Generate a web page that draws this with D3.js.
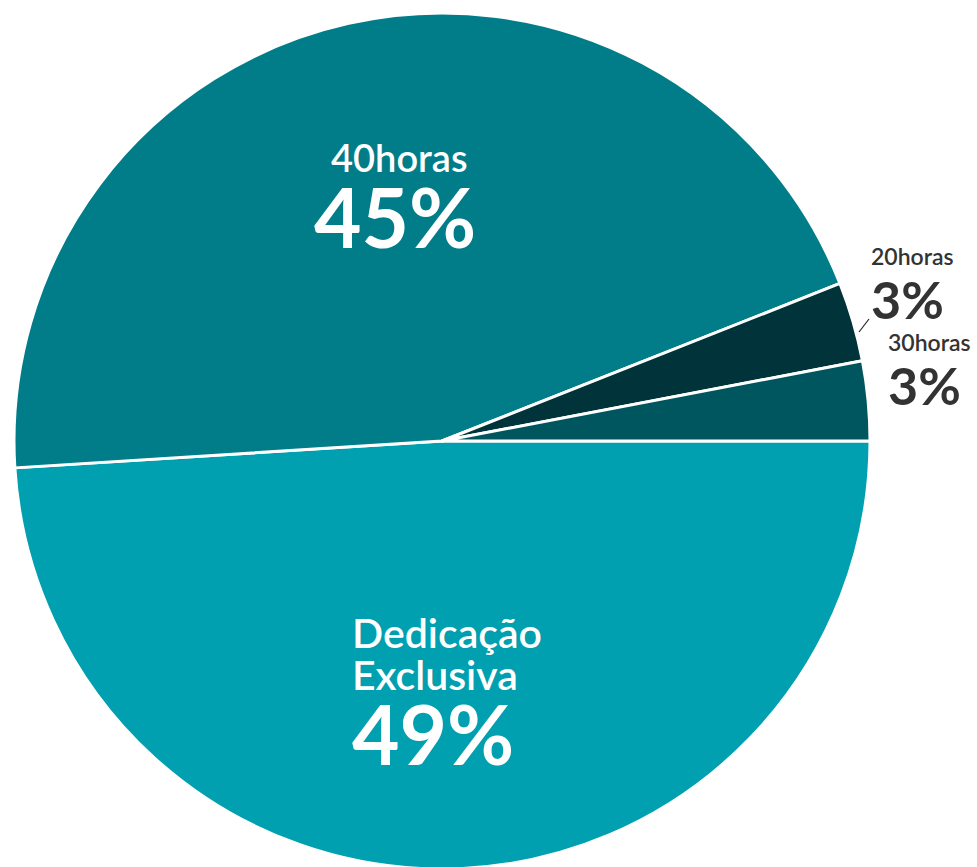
<!DOCTYPE html>
<html>
<head>
<meta charset="utf-8">
<script src="https://cdn.jsdelivr.net/npm/d3@7"></script>
<style>
  html, body { margin: 0; padding: 0; background: #fff; }
  svg { display: block; }
  text { font-family: Lato, "Noto Sans", sans-serif; }
</style>
</head>
<body>
<svg id="chart" width="977" height="867"></svg>
<script>
// Regime de trabalho — share of staff by contract type
const categories = ["Dedicação Exclusiva", "40horas", "20horas", "30horas"];
const values = [49, 45, 3, 3];
const valueLabels = ["49%", "45%", "3%", "3%"];
const colors = ["#00A0B0", "#007D89", "#00343A", "#00565F"];

const width = 977, height = 867;
const cx = 442, cy = 441, radius = 428;

const svg = d3.select("#chart");
const g = svg.append("g").attr("transform", `translate(${cx},${cy})`);

const data = categories.map((c, i) => ({ name: c, value: values[i], label: valueLabels[i], color: colors[i] }));

// Slices run clockwise starting from 3 o'clock
const pie = d3.pie()
  .sort(null)
  .value(d => d.value)
  .startAngle(Math.PI / 2)
  .endAngle(Math.PI / 2 + 2 * Math.PI);

const arc = d3.arc().innerRadius(0).outerRadius(radius);
const arcs = pie(data);

g.selectAll("path.slice")
  .data(arcs)
  .join("path")
  .attr("class", "slice")
  .attr("d", arc)
  .attr("fill", d => d.data.color)
  .attr("stroke", "#fff")
  .attr("stroke-width", 3)
  .attr("stroke-linejoin", "round");

// Label placement (offsets from the pie centre)
const labelLayout = {
  "Dedicação Exclusiva": { x: -90, lines: [{ t: "Dedicação", y: 207, s: 41 }, { t: "Exclusiva", y: 249, s: 41 }], pct: { y: 324, s: 82 }, fill: "#fff" },
  "40horas": { x: -111, lines: [{ t: "40horas", y: -269, s: 38 }], pct: { y: -193, s: 82, dx: -17 }, fill: "#fff" },
  "20horas": { x: 429, lines: [{ t: "20horas", y: -176, s: 23 }], pct: { y: -122, s: 52 }, fill: "#333" },
  "30horas": { x: 446, lines: [{ t: "30horas", y: -90, s: 23 }], pct: { y: -36, s: 52 }, fill: "#333" }
};

arcs.forEach(a => {
  const L = labelLayout[a.data.name];
  const lg = g.append("g").attr("class", "label");
  L.lines.forEach(l => {
    lg.append("text")
      .attr("x", L.x)
      .attr("y", l.y)
      .attr("font-size", l.s)
      .attr("font-weight", 600)
      .attr("fill", L.fill)
      .text(l.t);
  });
  lg.append("text")
    .attr("x", L.x + (L.pct.dx || 0))
    .attr("y", L.pct.y)
    .attr("font-size", L.pct.s)
    .attr("font-weight", 700)
    .attr("fill", L.fill)
    .text(a.data.label);
});

// Leader line from the thin 20horas slice to its label
g.append("line")
  .attr("x1", 417).attr("y1", -109)
  .attr("x2", 427).attr("y2", -122)
  .attr("stroke", "#222")
  .attr("stroke-width", 1.2);
</script>
</body>
</html>
